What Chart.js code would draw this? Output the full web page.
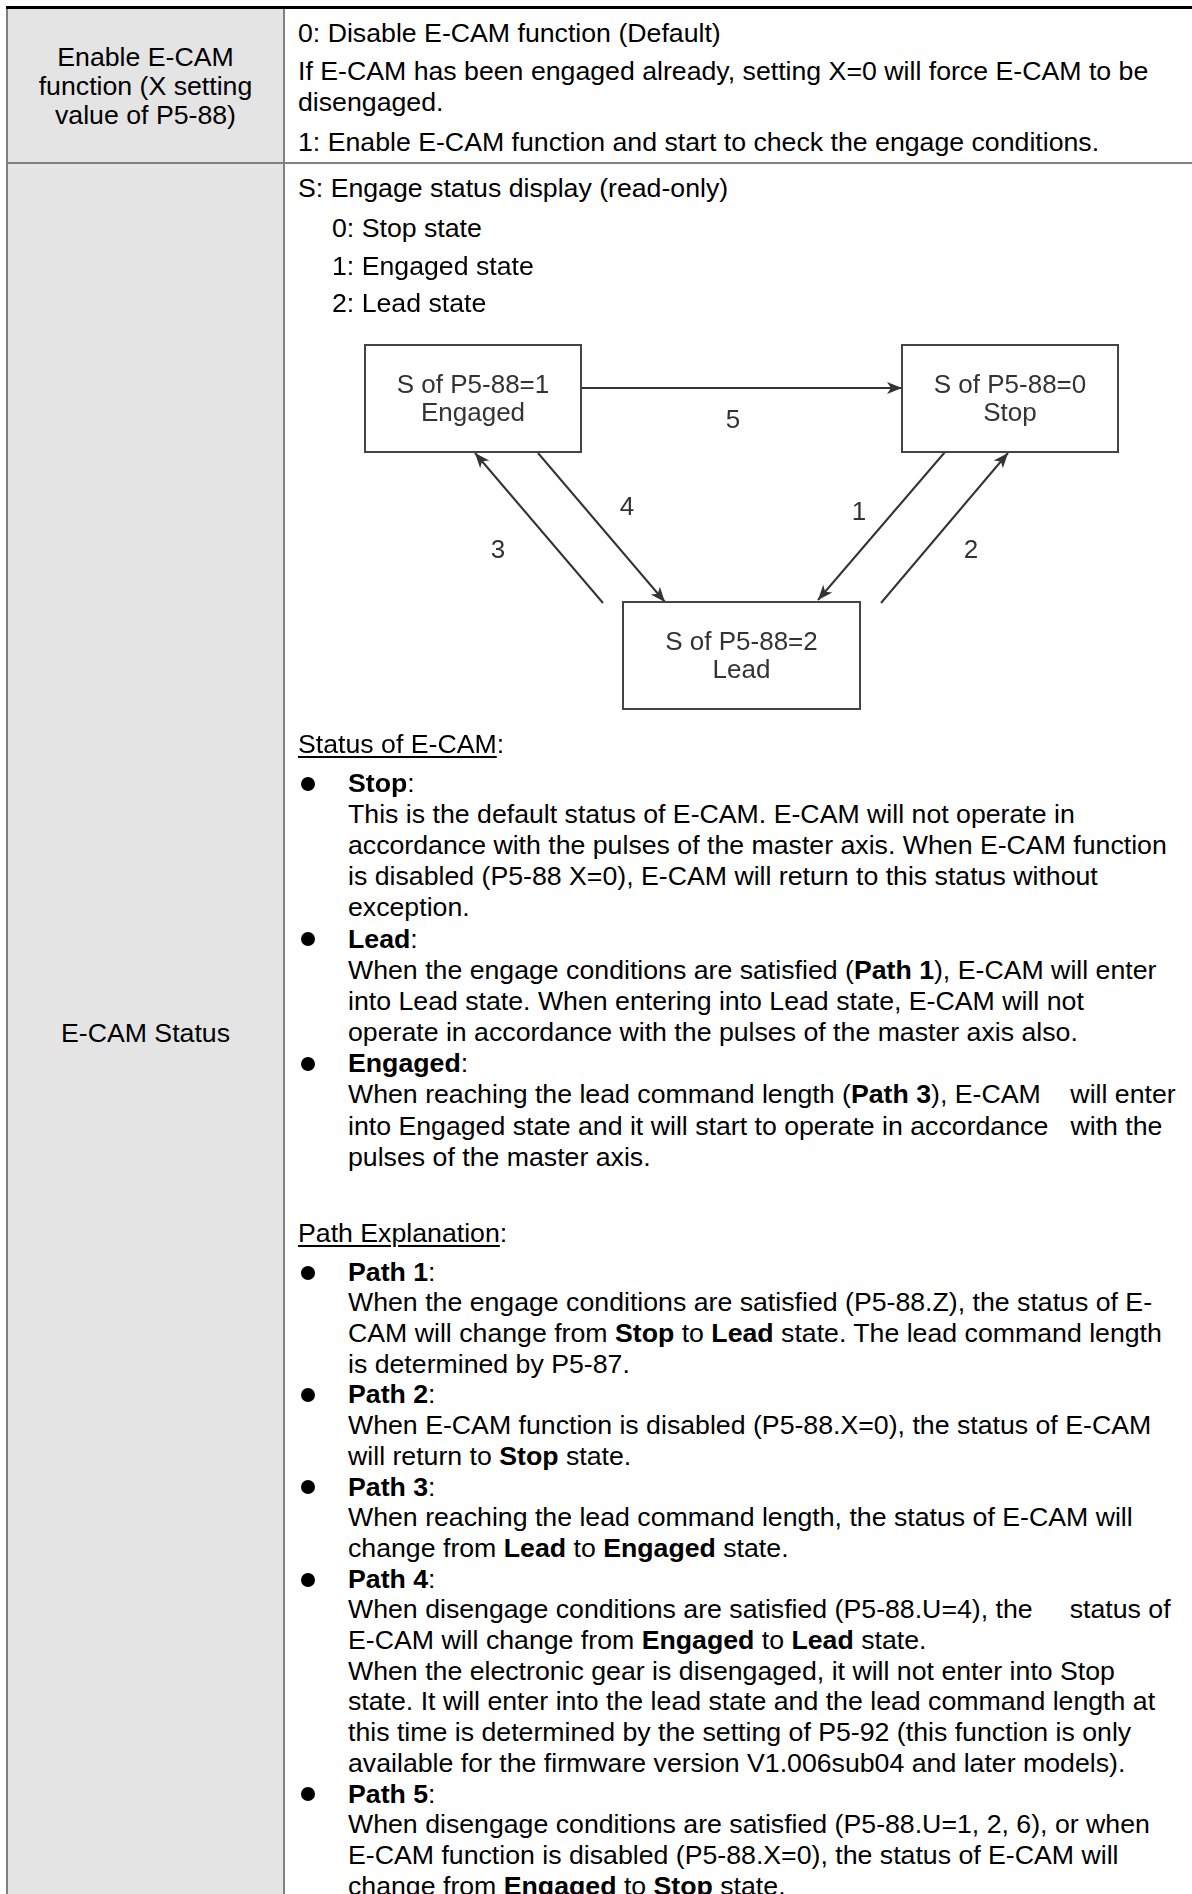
<!DOCTYPE html>
<html>
<head>
<meta charset="utf-8">
<script src="https://cdn.jsdelivr.net/npm/chart.js@4.4.1/dist/chart.umd.min.js"></script>
<style>
html,body{margin:0;padding:0;background:#fff;}
body{width:1192px;height:1894px;position:relative;overflow:hidden;font-family:"Liberation Sans",Arial,Helvetica,sans-serif;font-size:26.7px;color:#000;}
.ln{position:absolute;white-space:pre;line-height:30.7px;height:30.7px;}
.ctr{position:absolute;left:8px;width:275px;text-align:center;white-space:pre;line-height:30.7px;height:30.7px;}
.u{text-decoration:underline;text-decoration-thickness:2px;text-underline-offset:3px;}
.dot{position:absolute;width:14px;height:14px;border-radius:50%;background:#000;}
.rule{position:absolute;}
#diagram{position:absolute;left:284px;top:315px;}
</style>
</head>
<body>
<div class="rule" style="left:8px;top:9px;width:275px;height:1885px;background:#e4e4e4;"></div>
<div class="rule" style="left:6px;top:6px;width:1186px;height:3px;background:#000;"></div>
<div class="rule" style="left:6px;top:9px;width:2px;height:1885px;background:#808080;"></div>
<div class="rule" style="left:283px;top:9px;width:2px;height:1885px;background:#808080;"></div>
<div class="rule" style="left:8px;top:162px;width:1184px;height:2px;background:#808080;"></div>
<canvas id="diagram" width="908" height="420"></canvas>
<script>
// ---------- diagram data (diagram units) ----------
const nodeTitles = ['S of P5-88=1', 'S of P5-88=0', 'S of P5-88=2'];
const nodeStates = ['Engaged', 'Stop', 'Lead'];
const nodeX = [189, 726, 457.5];
const nodeY = [83.5, 83.5, 340.5];

const pathIds    = ['5', '3', '4', '1', '2'];
const pathFromX  = [297, 319, 254, 661, 597];
const pathFromY  = [73, 288, 138, 137, 288];
const pathToX    = [618, 191, 381, 534, 724];
const pathToY    = [73, 138, 287, 285, 138];
const pathLabelX = [449, 214, 343, 575, 687];
const pathLabelY = [103, 233, 190, 195, 233];

// ---------- page text ----------
const X0 = 298, X1 = 332, XB = 348;
function addLine(cy, x, html, bullet) {
  const d = document.createElement('div');
  d.className = 'ln';
  d.style.top = (cy - 15.35) + 'px';
  d.style.left = x + 'px';
  d.innerHTML = html;
  document.body.appendChild(d);
  if (bullet) {
    const b = document.createElement('div');
    b.className = 'dot';
    b.style.left = (308 - 7) + 'px';
    b.style.top = (cy + 0.5 - 7) + 'px';
    document.body.appendChild(b);
  }
}
function addLeft(cy, text) {
  const d = document.createElement('div');
  d.className = 'ctr';
  d.style.top = (cy - 15.35) + 'px';
  d.textContent = text;
  document.body.appendChild(d);
}
addLeft(57, 'Enable E-CAM');
addLeft(86, 'function (X setting');
addLeft(115, 'value of P5-88)');
addLeft(1033, 'E-CAM Status');

addLine(33, X0, '0: Disable E-CAM function (Default)');
addLine(71, X0, 'If E-CAM has been engaged already, setting X=0 will force E-CAM to be');
addLine(102, X0, 'disengaged.');
addLine(142, X0, '1: Enable E-CAM function and start to check the engage conditions.');
addLine(188, X0, 'S: Engage status display (read-only)');
addLine(228, X1, '0: Stop state');
addLine(266, X1, '1: Engaged state');
addLine(303, X1, '2: Lead state');

addLine(744, X0, '<span class="u">Status of E-CAM</span>:');
const statusLines = [
  ['<b>Stop</b>:', 1],
  ['This is the default status of E-CAM. E-CAM will not operate in'],
  ['accordance with the pulses of the master axis. When E-CAM function'],
  ['is disabled (P5-88 X=0), E-CAM will return to this status without'],
  ['exception.'],
  ['<b>Lead</b>:', 1],
  ['When the engage conditions are satisfied (<b>Path 1</b>), E-CAM will enter'],
  ['into Lead state. When entering into Lead state, E-CAM will not'],
  ['operate in accordance with the pulses of the master axis also.'],
  ['<b>Engaged</b>:', 1],
  ['When reaching the lead command length (<b>Path 3</b>), E-CAM    will enter'],
  ['into Engaged state and it will start to operate in accordance   with the'],
  ['pulses of the master axis.']
];
statusLines.forEach((l, k) => addLine(783 + k * 31.17, XB, l[0], l[1]));

addLine(1233, X0, '<span class="u">Path Explanation</span>:');
const pathLines = [
  ['<b>Path 1</b>:', 1],
  ['When the engage conditions are satisfied (P5-88.Z), the status of E-'],
  ['CAM will change from <b>Stop</b> to <b>Lead</b> state. The lead command length'],
  ['is determined by P5-87.'],
  ['<b>Path 2</b>:', 1],
  ['When E-CAM function is disabled (P5-88.X=0), the status of E-CAM'],
  ['will return to <b>Stop</b> state.'],
  ['<b>Path 3</b>:', 1],
  ['When reaching the lead command length, the status of E-CAM will'],
  ['change from <b>Lead</b> to <b>Engaged</b> state.'],
  ['<b>Path 4</b>:', 1],
  ['When disengage conditions are satisfied (P5-88.U=4), the     status of'],
  ['E-CAM will change from <b>Engaged</b> to <b>Lead</b> state.'],
  ['When the electronic gear is disengaged, it will not enter into Stop'],
  ['state. It will enter into the lead state and the lead command length at'],
  ['this time is determined by the setting of P5-92 (this function is only'],
  ['available for the firmware version V1.006sub04 and later models).'],
  ['<b>Path 5</b>:', 1],
  ['When disengage conditions are satisfied (P5-88.U=1, 2, 6), or when'],
  ['E-CAM function is disabled (P5-88.X=0), the status of E-CAM will'],
  ['change from <b>Engaged</b> to <b>Stop</b> state.']
];
pathLines.forEach((l, k) => addLine(1272 + k * 30.7, XB, l[0], l[1]));

// ---------- chart ----------
const INK = '#333';
const pathDatasets = pathIds.map((id, i) => ({
  label: 'Path ' + id,
  data: [{x: pathFromX[i], y: pathFromY[i]}, {x: pathToX[i], y: pathToY[i]}],
  showLine: true,
  borderColor: INK,
  borderWidth: 2,
  pointRadius: 0,
  fill: false
}));
const nodeDataset = {
  label: 'states',
  data: nodeX.map((v, i) => ({x: v, y: nodeY[i]})),
  pointRadius: 0,
  showLine: false
};

const diagramPlugin = {
  id: 'stateDiagram',
  afterDatasetsDraw(chart, args, opts) {
    const {ctx} = chart;
    const sx = chart.scales.x, sy = chart.scales.y;
    const px = v => sx.getPixelForValue(v);
    const py = v => sy.getPixelForValue(v);
    ctx.save();
    // arrowheads
    ctx.fillStyle = INK;
    pathIds.forEach((id, i) => {
      const x0 = px(pathFromX[i]), y0 = py(pathFromY[i]);
      const x1 = px(pathToX[i]), y1 = py(pathToY[i]);
      const a = Math.atan2(y1 - y0, x1 - x0);
      const L = opts.headLen, W = opts.headHalf, N = opts.headNotch;
      const c = Math.cos(a), s = Math.sin(a);
      ctx.beginPath();
      ctx.moveTo(x1, y1);
      ctx.lineTo(x1 - L * c + W * s, y1 - L * s - W * c);
      ctx.lineTo(x1 - N * c, y1 - N * s);
      ctx.lineTo(x1 - L * c - W * s, y1 - L * s + W * c);
      ctx.closePath();
      ctx.fill();
    });
    // boxes
    ctx.strokeStyle = '#444';
    ctx.lineWidth = 2;
    ctx.font = opts.font;
    ctx.textAlign = 'center';
    ctx.textBaseline = 'alphabetic';
    nodeX.forEach((v, i) => {
      const hw = opts.boxW[i] / 2, hh = opts.boxH / 2;
      const l = px(v - hw), r = px(v + hw);
      const t = py(nodeY[i] - hh), b = py(nodeY[i] + hh);
      ctx.fillStyle = '#fff';
      ctx.fillRect(l, t, r - l, b - t);
      ctx.strokeRect(l, t, r - l, b - t);
      ctx.fillStyle = INK;
      const cx = px(v), cy = py(nodeY[i]);
      ctx.fillText(nodeTitles[i], cx, cy - 15 + 9.5);
      ctx.fillText(nodeStates[i], cx, cy + 13 + 9.5);
    });
    // path numbers
    pathIds.forEach((id, i) => {
      ctx.fillText(id, px(pathLabelX[i]), py(pathLabelY[i]) + 9.5);
    });
    ctx.restore();
  }
};

new Chart(document.getElementById('diagram'), {
  type: 'scatter',
  data: {datasets: [...pathDatasets, nodeDataset]},
  options: {
    responsive: false,
    animation: false,
    devicePixelRatio: 1,
    layout: {padding: 0},
    events: [],
    scales: {
      x: {type: 'linear', min: 0, max: 908, display: false},
      y: {type: 'linear', min: 0, max: 420, reverse: true, display: false}
    },
    plugins: {
      legend: {display: false},
      tooltip: {enabled: false},
      stateDiagram: {
        boxW: [216, 216, 237],
        boxH: 107,
        headLen: 15,
        headHalf: 6,
        headNotch: 11,
        font: '26px "Liberation Sans", Arial, sans-serif'
      }
    }
  },
  plugins: [diagramPlugin]
});
</script>
</body>
</html>
